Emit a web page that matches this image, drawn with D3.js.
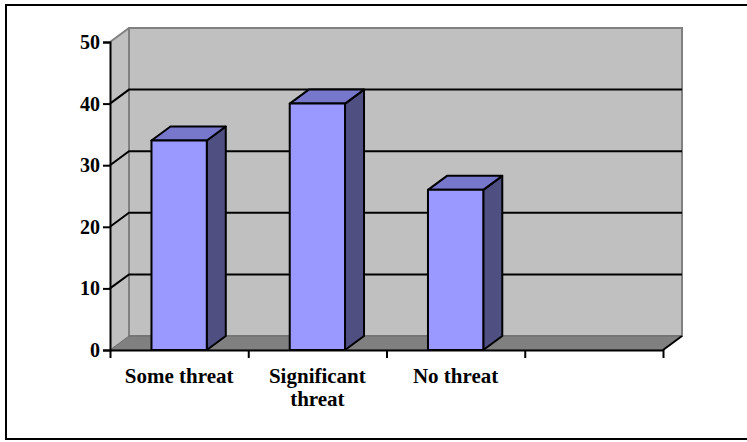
<!DOCTYPE html>
<html>
<head>
<meta charset="utf-8">
<script src="https://cdn.jsdelivr.net/npm/d3@7"></script>
<style>
  html, body { margin: 0; padding: 0; background: #fff; }
  svg { display: block; }
  text { font-family: "Liberation Serif", "Times New Roman", serif; font-weight: bold; fill: #000; }
</style>
</head>
<body>
<svg id="chart" width="747" height="442"></svg>
<script>
// Survey responses: perceived threat level (percent)
const categories = ["Some threat", "Significant threat", "No threat", ""];
const values = [34, 40, 26, null];
const yTicks = [0, 10, 20, 30, 40, 50];

const W = 747, H = 442;
const svg = d3.select("#chart");

// Front plane of the 3-D plot and the depth offset of the back wall
const front = { left: 110, right: 663, top: 42, bottom: 350 };
const depth = { dx: 19, dy: -14 };

const x = d3.scaleBand()
  .domain(d3.range(categories.length))
  .range([front.left, front.right])
  .paddingInner(0).paddingOuter(0);

const y = d3.scaleLinear().domain([0, 50]).range([front.bottom, front.top]);

const barW = x.bandwidth() * 0.4;

// Outer chart frame
svg.append("rect")
  .attr("x", 6).attr("y", 5).attr("width", 760).attr("height", 434)
  .attr("fill", "none").attr("stroke", "#000").attr("stroke-width", 2);

const wallColor = "#c0c0c0", floorColor = "#808080", edgeColor = "#808080";
const line = d3.line();

// Side wall (left)
svg.append("path")
  .attr("d", line([
    [front.left, y(50)], [front.left + depth.dx, y(50) + depth.dy],
    [front.left + depth.dx, y(0) + depth.dy], [front.left, y(0)]
  ]) + "Z")
  .attr("fill", wallColor).attr("stroke", "none");

// Back wall
svg.append("rect")
  .attr("x", front.left + depth.dx).attr("y", y(50) + depth.dy)
  .attr("width", front.right - front.left).attr("height", y(0) - y(50))
  .attr("fill", wallColor).attr("stroke", edgeColor).attr("stroke-width", 2);

// Floor
svg.append("path")
  .attr("d", line([
    [front.left, y(0)], [front.right, y(0)],
    [front.right + depth.dx, y(0) + depth.dy], [front.left + depth.dx, y(0) + depth.dy]
  ]) + "Z")
  .attr("fill", floorColor).attr("stroke", "#6a6a6a").attr("stroke-width", 1);

// Side wall top edge
svg.append("path")
  .attr("d", line([[front.left, y(50)], [front.left + depth.dx, y(50) + depth.dy]]))
  .attr("stroke", edgeColor).attr("stroke-width", 2).attr("fill", "none");

// Gridlines across side wall and back wall
const grid = svg.append("g");
yTicks.filter(v => v > 0 && v < 50).forEach(v => {
  grid.append("path")
    .attr("d", line([
      [front.left, y(v)],
      [front.left + depth.dx, y(v) + depth.dy],
      [front.right + depth.dx, y(v) + depth.dy]
    ]))
    .attr("fill", "none").attr("stroke", "#000").attr("stroke-width", 2);
});

// Bars
const bars = svg.append("g");
categories.forEach((c, i) => {
  const v = values[i];
  if (v == null) return;
  const cx = x(i) + x.bandwidth() / 2;
  const x0 = cx - barW / 2, x1 = cx + barW / 2;
  const yt = y(v), yb = y(0);
  const g = bars.append("g").attr("stroke", "#000").attr("stroke-width", 2).attr("stroke-linejoin", "round");
  // side face
  g.append("path")
    .attr("d", line([[x1, yt], [x1 + depth.dx, yt + depth.dy], [x1 + depth.dx, yb + depth.dy], [x1, yb]]) + "Z")
    .attr("fill", "#4f4f82");
  // top face
  g.append("path")
    .attr("d", line([[x0, yt], [x0 + depth.dx, yt + depth.dy], [x1 + depth.dx, yt + depth.dy], [x1, yt]]) + "Z")
    .attr("fill", "#7777cc");
  // front face
  g.append("rect")
    .attr("x", x0).attr("y", yt).attr("width", barW).attr("height", yb - yt)
    .attr("fill", "#9999ff");
});

// Value axis
const yAxis = d3.axisLeft(y).tickValues(yTicks).tickSize(7).tickPadding(3).tickFormat(d3.format("d"));
const gy = svg.append("g").attr("transform", `translate(${front.left},0)`).call(yAxis);
gy.select(".domain").attr("stroke", "#000").attr("stroke-width", 2);
gy.selectAll(".tick line").attr("stroke", "#000").attr("stroke-width", 2);
gy.selectAll(".tick text")
  .style("font-family", '"Liberation Serif", serif').style("font-weight", "bold")
  .style("font-size", "20px").attr("fill", "#000");

// Category axis
const catScale = d3.scaleLinear().domain([0, categories.length]).range([front.left, front.right]);
const gx = svg.append("g").attr("transform", `translate(0,${front.bottom})`)
  .call(d3.axisBottom(catScale).tickValues(d3.range(categories.length + 1)).tickSize(8).tickSizeOuter(0).tickFormat(""));
gx.select(".domain").attr("stroke", "#000").attr("stroke-width", 2);
gx.selectAll(".tick line").attr("stroke", "#000").attr("stroke-width", 2);

// Right floor edge
svg.append("path")
  .attr("d", line([[front.right, y(0)], [front.right + depth.dx, y(0) + depth.dy]]))
  .attr("stroke", "#000").attr("stroke-width", 2).attr("fill", "none");

// Category labels, wrapped to the band width
const labels = svg.append("g");
categories.forEach((c, i) => {
  if (!c) return;
  const cx = x(i) + x.bandwidth() / 2;
  const t = labels.append("text")
    .attr("x", cx).attr("y", 383)
    .attr("text-anchor", "middle")
    .style("font-size", "21px");
  const words = c.split(" ");
  let lineWords = [];
  let tspan = t.append("tspan").attr("x", cx).attr("dy", 0);
  words.forEach(w => {
    lineWords.push(w);
    tspan.text(lineWords.join(" "));
    if (tspan.node().getComputedTextLength() > x.bandwidth() - 10 && lineWords.length > 1) {
      lineWords.pop();
      tspan.text(lineWords.join(" "));
      lineWords = [w];
      tspan = t.append("tspan").attr("x", cx).attr("dy", "23px").text(w);
    }
  });
});
</script>
</body>
</html>
